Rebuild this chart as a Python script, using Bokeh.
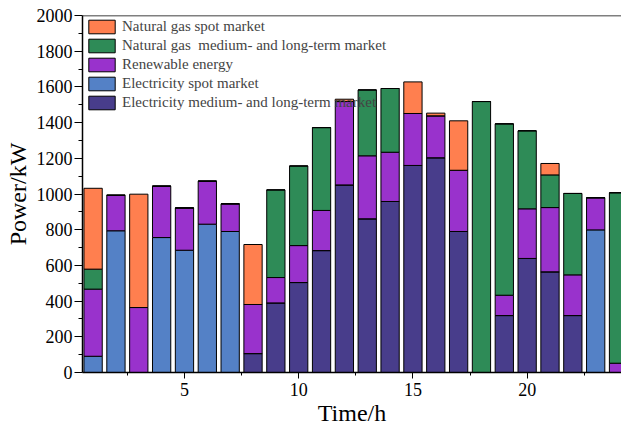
from bokeh.plotting import figure
from bokeh.models import Legend, LegendItem, Span, FixedTicker, Range1d, ColumnDataSource
from bokeh.embed import file_html
from bokeh.resources import INLINE

hours = list(range(1, 25))
elec_mlt = [0, 0, 0, 0, 0, 0, 0, 106, 390, 504, 683, 1051, 861, 958, 1160, 1203, 790, 0, 319, 639, 564, 319, 0, 0]
elec_spot = [91, 794, 0, 756, 685, 831, 790, 0, 0, 0, 0, 0, 0, 0, 0, 0, 0, 0, 0, 0, 0, 0, 799, 0]
renewable = [376, 199, 364, 288, 237, 241, 155, 275, 142, 207, 225, 467, 353, 276, 291, 235, 343, 0, 114, 278, 360, 228, 180, 52]
gas_mlt = [112, 0, 0, 0, 0, 0, 0, 0, 491, 446, 464, 0, 369, 357, 0, 0, 0, 1518, 960, 437, 183, 456, 0, 955]
gas_spot = [453, 0, 635, 0, 0, 0, 0, 336, 0, 0, 0, 13, 0, 0, 177, 15, 277, 0, 0, 0, 64, 0, 0, 0]

series_keys = ["elec_mlt", "elec_spot", "renewable", "gas_mlt", "gas_spot"]
series_names = ["Electricity medium- and long-term market", "Electricity spot market",
                "Renewable energy", "Natural gas  medium- and long-term market",
                "Natural gas spot market"]
colors = ["#483D8B", "#5481C6", "#9932CC", "#2E8B57", "#FF7F4F"]

y_ticks = list(range(0, 2001, 200))
x_ticks = [5, 10, 15, 20]

source = ColumnDataSource(dict(hours=hours, elec_mlt=elec_mlt, elec_spot=elec_spot,
                               renewable=renewable, gas_mlt=gas_mlt, gas_spot=gas_spot))

FONT = "Liberation Serif"

p = figure(width=621, height=432, output_backend="svg", toolbar_location=None,
           x_range=Range1d(0.536, 24.13), y_range=Range1d(0, 2000),
           min_border_left=82, min_border_top=15, min_border_bottom=60, min_border_right=0)

renderers = p.vbar_stack(series_keys, x="hours", width=0.8, source=source,
                         fill_color=colors, line_color="black", line_width=1)

items = [LegendItem(label=series_names[i], renderers=[renderers[i]]) for i in range(4, -1, -1)]
legend = Legend(items=items, location="top_left", margin=3, padding=1, spacing=2,
                glyph_width=33, glyph_height=17, label_standoff=4,
                label_text_font=FONT, label_text_font_size="15px",
                background_fill_alpha=0, border_line_color=None, label_height=17)
p.add_layout(legend)

p.outline_line_color = None
p.add_layout(Span(location=2000, dimension="width", line_color="black", line_width=1.5))

p.xgrid.visible = False
p.ygrid.visible = False

p.xaxis.ticker = FixedTicker(ticks=x_ticks, minor_ticks=[2.5, 7.5, 12.5, 17.5, 22.5])
p.yaxis.ticker = FixedTicker(ticks=y_ticks, minor_ticks=list(range(100, 2000, 200)))

for ax in (p.xaxis[0], p.yaxis[0]):
    ax.axis_line_color = "black"
    ax.axis_line_width = 1.5
    ax.major_tick_line_color = "black"
    ax.minor_tick_line_color = "black"
    ax.major_tick_in = 0
    ax.minor_tick_in = 0
    ax.major_label_text_font = FONT
    ax.major_label_text_font_size = "18px"
    ax.major_label_text_color = "black"
    ax.axis_label_text_font = FONT
    ax.axis_label_text_font_size = "24px"
    ax.axis_label_text_font_style = "normal"
    ax.axis_label_text_color = "black"

p.xaxis.major_tick_out = 6
p.xaxis.minor_tick_out = 3
p.yaxis.major_tick_out = 8
p.yaxis.minor_tick_out = 4
p.xaxis.major_label_standoff = 4
p.yaxis.major_label_standoff = 2
p.xaxis.axis_label = "Time/h"
p.yaxis.axis_label = "Power/kW"
p.xaxis.axis_label_standoff = 1
p.yaxis.axis_label_standoff = 3

open("out.html", "w").write(file_html(p, INLINE))
